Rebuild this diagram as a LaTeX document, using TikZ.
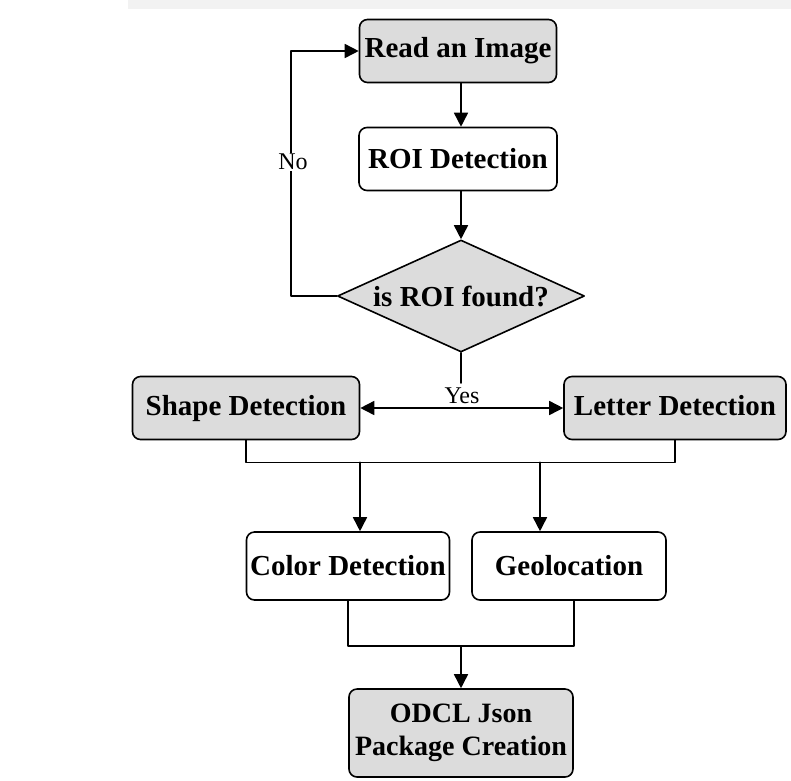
\documentclass[tikz,border=0pt]{standalone}
\usepackage{fontspec}
\setmainfont{Liberation Serif}
\usetikzlibrary{shapes.geometric,arrows.meta}
\definecolor{boxgray}{HTML}{DCDCDC}
\begin{document}
\begin{tikzpicture}[x=1pt, y=-1pt, line cap=round, line join=round, line width=1.6pt,
  >={Triangle[length=14pt,width=14pt]},
  blk/.style={draw, rounded corners=8pt, minimum height=63pt, inner sep=2pt,
    align=center, font=\bfseries\fontsize{29}{33}\selectfont},
  shaded/.style={blk, fill=boxgray},
  plain/.style={blk, fill=white},
  lbl/.style={font=\fontsize{24}{26}\selectfont, inner sep=1pt}]
\useasboundingbox (0,0) rectangle (791,780);
\fill[gray!10] (128,0) rectangle (791,9);
% boxes
\node[shaded, minimum width=197pt] (read) at (458,51) {Read an Image};
\node[plain, minimum width=198pt] (roi) at (458,159) {ROI Detection};
\node[diamond, draw, fill=boxgray, aspect=2.2, inner sep=0pt, minimum width=247pt, minimum height=112pt,
  font=\bfseries\fontsize{29}{33}\selectfont] (found) at (461,296) {is ROI found?};
\node[shaded, minimum width=227pt, text height=20pt, text depth=5pt] (shape) at (246,408) {Shape Detection};
\node[shaded, minimum width=222pt, text height=20pt, text depth=5pt] (letter) at (675,408) {Letter Detection};
\node[plain, minimum width=203pt, minimum height=68pt] (color) at (348,566) {Color Detection};
\node[plain, minimum width=194pt, minimum height=68pt] (geo) at (569,566) {Geolocation};
\node[shaded, minimum width=224pt, minimum height=88pt, font=\bfseries\fontsize{28}{33}\selectfont] (odcl) at (461,733) {ODCL Json\\Package Creation};
% connectors
\draw[->] (found.north |- read.south) -- (found.north |- roi.north);
\draw[->] (found.north |- roi.south) -- (found.north);
\draw[->] (found.west) -- ++(-46,0) |- (read.west);
\node[lbl, fill=white] (no) at (293,162) {No};
\coordinate (yesend) at (461,383);
\draw (found.south) -- (yesend);
\node[lbl] (yes) at (462,396) {Yes};
\draw[<->] (shape) -- (letter);
\draw (shape.south) -- ++(0,22) coordinate (mtop) -| (letter.south);
\draw[->] ([xshift=12pt]color.north |- mtop) -- ([xshift=12pt]color.north);
\draw[->] ([xshift=-29pt]geo.north |- mtop) -- ([xshift=-29pt]geo.north);
\draw (color.south) -- ++(0,45) coordinate (mbot) -| ([xshift=5pt]geo.south);
\draw[->] (odcl.north |- mbot) -- (odcl);
\end{tikzpicture}
\end{document}
